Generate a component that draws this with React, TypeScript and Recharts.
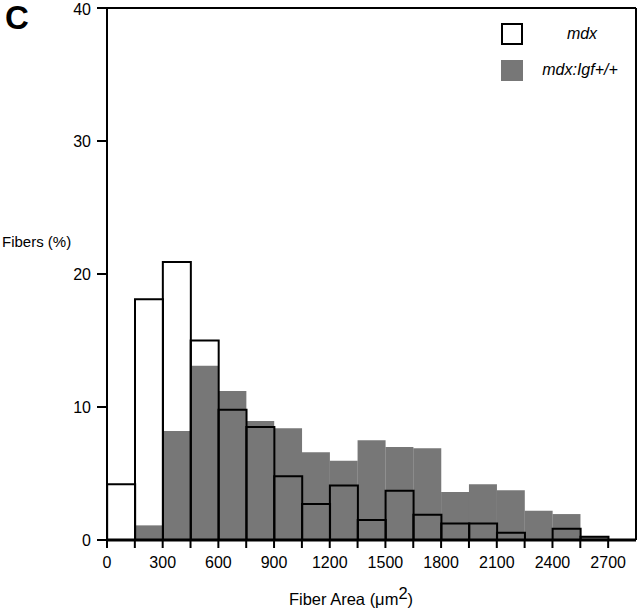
import { Bar, BarChart, Label, ReferenceLine, XAxis, YAxis } from "recharts";

// fiber area histogram, 150 µm² bins
const BIN_WIDTH = 150;
const binStarts = [0, 150, 300, 450, 600, 750, 900, 1050, 1200, 1350, 1500, 1650, 1800, 1950, 2100, 2250, 2400, 2550];
const mdx = [4.2, 18.1, 20.9, 15.0, 9.8, 8.5, 4.8, 2.7, 4.1, 1.5, 3.7, 1.9, 1.25, 1.25, 0.55, 0, 0.85, 0.25];
const mdxIgf = [0, 1.1, 8.2, 13.1, 11.2, 8.95, 8.4, 6.6, 5.95, 7.5, 7.0, 6.9, 3.6, 4.2, 3.75, 2.2, 1.95, 0.3];
const xTicks = [0, 150, 300, 450, 600, 750, 900, 1050, 1200, 1350, 1500, 1650, 1800, 1950, 2100, 2250, 2400, 2550, 2700];
const yTicks = [0, 10, 20, 30, 40];

const FONT = "'Liberation Sans', Arial, Helvetica, sans-serif";
const GREY = "#777777";

const data = binStarts.map((start, i) => ({
  mid: start + BIN_WIDTH / 2,
  mdx: mdx[i],
  igf: mdxIgf[i],
}));

export default function App() {
  return (
    <div style={{ position: "absolute", left: 0, top: 0, width: 640, height: 614, fontFamily: FONT, background: "#fff" }}>
      <div style={{ position: "absolute", left: 5, top: 0, fontSize: 33, fontWeight: 700, lineHeight: "36px" }}>C</div>

      <BarChart
        width={640}
        height={614}
        data={data}
        margin={{ top: 8, right: 4, bottom: 0, left: 0 }}
        barCategoryGap={0}
        barGap="-100%"
      >
        <XAxis
          type="number"
          dataKey="mid"
          domain={[0, 2850]}
          ticks={xTicks}
          interval={0}
          height={74}
          tickSize={8}
          tickMargin={9}
          tickFormatter={(v: number) => (v % 300 === 0 ? String(v) : "")}
          tick={{ fill: "#000", fontSize: 16, fontFamily: FONT }}
          axisLine={{ stroke: "#000", strokeWidth: 3 }}
          tickLine={{ stroke: "#000", strokeWidth: 2 }}
        >
          <Label
            content={() => (
              <text x={351} y={605} textAnchor="middle" fontSize={16.5} fontFamily={FONT} fill="#000">
                Fiber Area (μm<tspan dy={-6}>2</tspan>
                <tspan dy={6}>)</tspan>
              </text>
            )}
          />
        </XAxis>
        <YAxis
          type="number"
          domain={[0, 40]}
          ticks={yTicks}
          width={107}
          tickSize={10}
          tickMargin={6}
          tick={{ fill: "#000", fontSize: 16, fontFamily: FONT }}
          axisLine={{ stroke: "#000", strokeWidth: 2 }}
          tickLine={{ stroke: "#000", strokeWidth: 2 }}
        >
          <Label
            content={() => (
              <text x={2} y={247} fontSize={15} fontFamily={FONT} fill="#000">
                Fibers (%)
              </text>
            )}
          />
        </YAxis>
        <ReferenceLine y={40} stroke="#000" strokeWidth={2} ifOverflow="visible" />
        <ReferenceLine x={2850} stroke="#000" strokeWidth={2} ifOverflow="visible" />
        <Bar dataKey="igf" fill={GREY} isAnimationActive={false} />
        <Bar dataKey="mdx" fill="none" stroke="#000" strokeWidth={2} isAnimationActive={false} />
      </BarChart>

      <div style={{ position: "absolute", left: 501, top: 23, fontSize: 16, fontStyle: "italic" }}>
        <div style={{ display: "flex", alignItems: "center", height: 22 }}>
          <div style={{ width: 18, height: 18, border: "2px solid #000", background: "#fff" }} />
          <div style={{ width: 110, textAlign: "center", marginLeft: 4 }}>mdx</div>
        </div>
        <div style={{ display: "flex", alignItems: "center", height: 22, marginTop: 14 }}>
          <div style={{ width: 22, height: 21, background: GREY }} />
          <div style={{ width: 110, textAlign: "center", marginLeft: 2 }}>mdx:Igf+/+</div>
        </div>
      </div>
    </div>
  );
}
